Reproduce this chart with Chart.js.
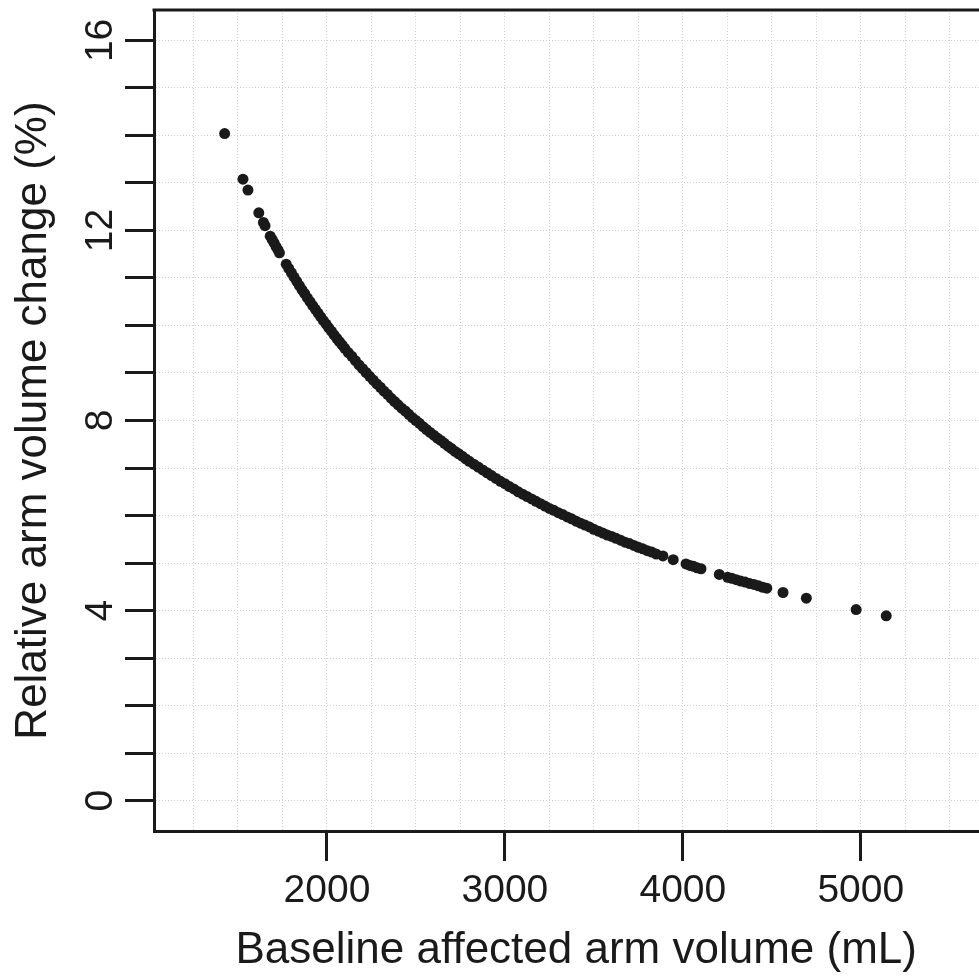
<!DOCTYPE html>
<html>
<head>
<meta charset="utf-8">
<script src="https://cdn.jsdelivr.net/npm/chart.js@4"></script>
<style>
  html, body { margin: 0; padding: 0; background: #fff; overflow: hidden; }
  #wrap { width: 1004px; height: 979px; }
</style>
</head>
<body>
<div id="wrap"><canvas id="armChart" width="1004" height="979"></canvas></div>
<script>
// baseline affected arm volume (mL)
const volume = [
  1425, 1528, 1556, 1617, 1643, 1652, 1681, 1692, 1703, 1714, 1725, 1733,
  1771, 1785, 1800, 1815, 1830, 1845, 1860, 1875, 1890, 1905, 1920, 1935,
  1950, 1965, 1980, 1995, 2010, 2025, 2040, 2055, 2070, 2085, 2100, 2120,
  2140, 2160, 2180, 2200, 2220, 2240, 2260, 2280, 2300, 2320, 2340, 2360,
  2380, 2400, 2420, 2440, 2460, 2480, 2500, 2520, 2540, 2560, 2580, 2600,
  2620, 2640, 2660, 2680, 2700, 2720, 2740, 2760, 2780, 2800, 2825, 2850,
  2875, 2900, 2925, 2950, 2975, 3000, 3025, 3050, 3075, 3100, 3125, 3150,
  3175, 3200, 3225, 3250, 3275, 3300, 3325, 3350, 3375, 3400, 3425, 3450,
  3475, 3500, 3525, 3550, 3575, 3600, 3625, 3650, 3675, 3700, 3725, 3750,
  3775, 3800, 3825, 3850, 3888, 3946, 4018, 4040, 4060, 4080, 4102, 4205,
  4252, 4275, 4300, 4325, 4350, 4375, 4400, 4425, 4450, 4472, 4563, 4694,
  4974, 5143
];
// relative arm volume change (%)
const change = [
  14.04, 13.08, 12.85, 12.37, 12.17, 12.10, 11.88, 11.81, 11.74, 11.66, 11.59, 11.53,
  11.29, 11.20, 11.11, 11.02, 10.93, 10.84, 10.75, 10.67, 10.58, 10.50, 10.42, 10.34,
  10.26, 10.18, 10.10, 10.03, 9.95, 9.88, 9.80, 9.73, 9.66, 9.59, 9.52, 9.43,
  9.35, 9.26, 9.17, 9.09, 9.01, 8.93, 8.85, 8.77, 8.70, 8.62, 8.55, 8.47,
  8.40, 8.33, 8.26, 8.20, 8.13, 8.06, 8.00, 7.94, 7.87, 7.81, 7.75, 7.69,
  7.63, 7.58, 7.52, 7.46, 7.41, 7.35, 7.30, 7.25, 7.19, 7.14, 7.08, 7.02,
  6.96, 6.90, 6.84, 6.78, 6.72, 6.67, 6.61, 6.56, 6.50, 6.45, 6.40, 6.35,
  6.30, 6.25, 6.20, 6.15, 6.11, 6.06, 6.02, 5.97, 5.93, 5.88, 5.84, 5.80,
  5.76, 5.71, 5.67, 5.63, 5.59, 5.56, 5.52, 5.48, 5.44, 5.41, 5.37, 5.33,
  5.30, 5.26, 5.23, 5.19, 5.15, 5.07, 4.98, 4.95, 4.93, 4.90, 4.88, 4.76,
  4.70, 4.68, 4.65, 4.62, 4.60, 4.57, 4.55, 4.52, 4.49, 4.47, 4.38, 4.26,
  4.02, 3.89
];

const xTickLabels = [2000, 3000, 4000, 5000];
const xGrid = [1250, 1500, 1750, 2000, 2250, 2500, 2750, 3000, 3250, 3500, 3750, 4000, 4250, 4500, 4750, 5000, 5250, 5500, 5750];
const yTickLabels = [0, 4, 8, 12, 16];
const yGrid = [0, 1, 2, 3, 4, 5, 6, 7, 8, 9, 10, 11, 12, 13, 14, 15, 16];

const ink = "#1a1a1a";
const gridColor = "#d0d0d0";
const family = "'Liberation Sans', Arial, Helvetica, sans-serif";

// top/right frame lines and the rotated y tick labels (R style)
const frameAndLabels = {
  id: "frameAndLabels",
  afterDraw(chart) {
    const { ctx, chartArea: a, scales: { y } } = chart;
    ctx.save();
    ctx.strokeStyle = ink;
    ctx.lineWidth = 3;
    ctx.beginPath();
    ctx.moveTo(a.left - 1.5, a.top);
    ctx.lineTo(a.right, a.top);
    ctx.lineTo(a.right, a.bottom + 1.5);
    ctx.stroke();

    ctx.fillStyle = ink;
    ctx.font = "39px " + family;
    ctx.textAlign = "center";
    ctx.textBaseline = "alphabetic";
    const xBase = y.right - y.options.grid.tickLength - 13;
    yTickLabels.forEach(v => {
      ctx.save();
      ctx.translate(xBase, y.getPixelForValue(v));
      ctx.rotate(-Math.PI / 2);
      ctx.fillText(String(v), 0, 0);
      ctx.restore();
    });
    ctx.restore();
  }
};

const canvas = document.getElementById("armChart");
new Chart(canvas.getContext("2d"), {
  type: "scatter",
  data: {
    datasets: [{
      data: volume.map((v, i) => ({ x: v, y: change[i] })),
      pointRadius: 5.5,
      pointHoverRadius: 5.5,
      pointBackgroundColor: ink,
      pointBorderWidth: 0,
      showLine: false
    }]
  },
  options: {
    responsive: false,
    animation: false,
    events: [],
    layout: { padding: { top: 10, right: 2, left: 0, bottom: 0 } },
    plugins: {
      legend: { display: false },
      tooltip: { enabled: false }
    },
    scales: {
      x: {
        type: "linear",
        min: 1028,
        max: 5774,
        afterFit: s => { s.height = 148; s.paddingLeft = 0; s.paddingRight = 0; },
        afterBuildTicks: s => { s.ticks = xGrid.map(v => ({ value: v })); },
        grid: {
          color: gridColor,
          lineWidth: 1,
          tickLength: 30,
          tickWidth: 3,
          tickColor: c => (c.tick && xTickLabels.includes(c.tick.value)) ? ink : "rgba(0,0,0,0)"
        },
        border: { display: true, color: ink, width: 3, dash: [1, 2] },
        ticks: {
          autoSkip: false,
          maxRotation: 0,
          padding: 7,
          color: ink,
          font: { family: family, size: 39 },
          callback: v => xTickLabels.includes(v) ? String(v) : ""
        },
        title: {
          display: true,
          text: "Baseline affected arm volume (mL)",
          color: ink,
          font: { family: family, size: 44 },
          padding: { top: 0, bottom: 2 }
        }
      },
      y: {
        type: "linear",
        min: -0.64,
        max: 16.64,
        afterFit: s => { s.width = 154; s.paddingTop = 0; s.paddingBottom = 0; },
        afterBuildTicks: s => { s.ticks = yGrid.map(v => ({ value: v })); },
        grid: {
          color: gridColor,
          lineWidth: 1,
          tickLength: 29,
          tickWidth: 3,
          tickColor: ink
        },
        border: { display: true, color: ink, width: 3, dash: [1, 2] },
        ticks: { display: false },
        title: {
          display: true,
          text: "Relative arm volume change (%)",
          color: ink,
          font: { family: family, size: 44 },
          padding: { top: 7, bottom: 0 }
        }
      }
    }
  },
  plugins: [frameAndLabels]
});
</script>
</body>
</html>
